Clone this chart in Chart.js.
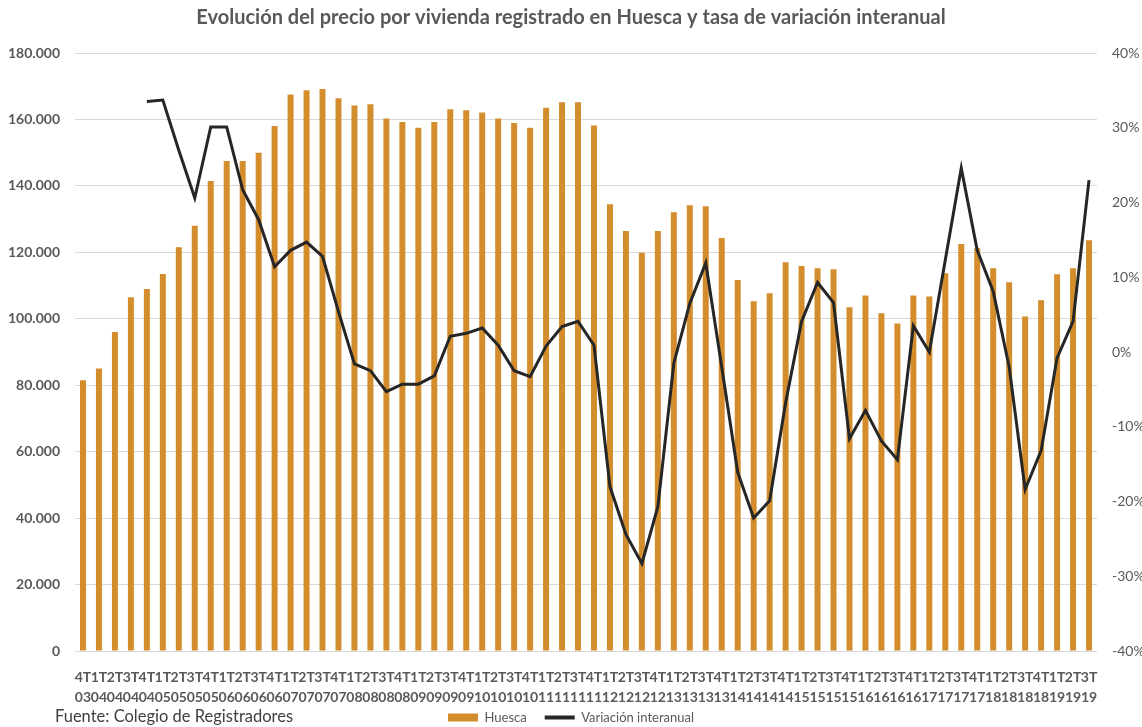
<!DOCTYPE html>
<html lang="es">
<head>
<meta charset="utf-8">
<title>Evolución del precio por vivienda registrado en Huesca</title>
<script src="https://cdn.jsdelivr.net/npm/chart.js@4.4.1/dist/chart.umd.min.js"></script>
<style>
  html, body { margin: 0; padding: 0; background: #fff; }
  #wrap { position: relative; width: 1142px; height: 727px; }
  #fuente {
    position: absolute; left: 55px; top: 706px;
    font-family: Lato, "Open Sans", sans-serif; font-size: 16.5px; color: #404040;
  }
</style>
</head>
<body>
<div id="wrap">
  <canvas id="chart" width="1142" height="727"></canvas>
  <div id="fuente">Fuente: Colegio de Registradores</div>
</div>
<script>
  // Trimestres (4T03 ... 3T19)
  const periodos = [
    "4T03",
    "1T04", "2T04", "3T04", "4T04",
    "1T05", "2T05", "3T05", "4T05",
    "1T06", "2T06", "3T06", "4T06",
    "1T07", "2T07", "3T07", "4T07",
    "1T08", "2T08", "3T08", "4T08",
    "1T09", "2T09", "3T09", "4T09",
    "1T10", "2T10", "3T10", "4T10",
    "1T11", "2T11", "3T11", "4T11",
    "1T12", "2T12", "3T12", "4T12",
    "1T13", "2T13", "3T13", "4T13",
    "1T14", "2T14", "3T14", "4T14",
    "1T15", "2T15", "3T15", "4T15",
    "1T16", "2T16", "3T16", "4T16",
    "1T17", "2T17", "3T17", "4T17",
    "1T18", "2T18", "3T18", "4T18",
    "1T19", "2T19", "3T19"
  ];

  // Precio por vivienda (euros)
  const precioHuesca = [
    81500,
    85000, 96000, 106500, 109000,
    113500, 121500, 128000, 141500,
    147500, 147500, 150000, 158000,
    167500, 168800, 169200, 166400,
    164200, 164600, 160300, 159200,
    157500, 159200, 163100, 162800,
    162100, 160300, 158900, 157500,
    163500, 165200, 165200, 158200,
    134500, 126400, 119900, 126400,
    132100, 134200, 133900, 124300,
    111700, 105300, 107700, 117000,
    115900, 115200, 114900, 103500,
    107000, 101700, 98600, 107000,
    106700, 113700, 122500, 121200,
    115200, 111000, 100700, 105600,
    113400, 115200, 123600
  ];

  // Variación interanual (%)
  const variacion = [
    null,
    null, null, null, 33.5,
    33.7, 27.0, 20.6, 30.1,
    30.1, 21.7, 17.7, 11.4,
    13.6, 14.7, 12.8, 5.4,
    -1.6, -2.5, -5.3, -4.3,
    -4.3, -3.2, 2.1, 2.5,
    3.2, 0.9, -2.5, -3.3,
    0.8, 3.4, 4.1, 0.9,
    -18.0, -24.4, -28.3, -20.7,
    -1.5, 6.5, 11.9, -2.0,
    -16.1, -22.2, -19.9, -6.8,
    4.1, 9.3, 6.6, -11.6,
    -7.8, -11.9, -14.4, 3.5,
    0.0, 12.3, 24.6, 13.6,
    8.1, -2.0, -18.4, -13.2,
    -0.8, 4.1, 23.0
  ];

  const TITULO = "Evolución del precio por vivienda registrado en Huesca y tasa de variación interanual";
  const FONT = 'Lato, "Open Sans", sans-serif';
  const GRIS = "#595959";
  const NARANJA = "#D38D2D";
  const NEGRO = "#262626";

  function miles(v) {
    return String(v).replace(/\B(?=(\d{3})+(?!\d))/g, ".");
  }

  // Las etiquetas de dos líneas del eje X sobresalen de su caja: sin recorte
  const sinRecorteX = {
    id: "sinRecorteX",
    afterLayout: function (chart) {
      chart.scales.x._computeLabelArea = function () { return undefined; };
    }
  };

  new Chart(document.getElementById("chart"), {
    data: {
      labels: periodos.map(function (p) { return [p.slice(0, 2), p.slice(2)]; }),
      datasets: [
        {
          type: "bar",
          label: "Huesca",
          data: precioHuesca,
          backgroundColor: NARANJA,
          yAxisID: "y",
          barPercentage: 0.75,
          categoryPercentage: 0.5,
          order: 2
        },
        {
          type: "line",
          label: "Variación interanual",
          data: variacion,
          borderColor: NEGRO,
          backgroundColor: NEGRO,
          borderWidth: 3,
          pointRadius: 0,
          tension: 0,
          yAxisID: "y1",
          order: 1
        }
      ]
    },
    plugins: [sinRecorteX],
    options: {
      responsive: false,
      animation: false,
      layout: { padding: { top: 0, left: 0, right: 0, bottom: -7 } },
      plugins: {
        tooltip: { enabled: false },
        title: {
          display: true,
          text: TITULO,
          color: GRIS,
          font: { family: FONT, size: 20, weight: "bold", lineHeight: 1.2 },
          padding: { top: 6, bottom: 23 }
        },
        legend: {
          position: "bottom",
          labels: {
            color: GRIS,
            font: { family: FONT, size: 13 },
            padding: 18,
            boxHeight: 8,
            usePointStyle: true,
            pointStyleWidth: 30,
            sort: function (a, b) { return a.datasetIndex - b.datasetIndex; },
            generateLabels: function (chart) {
              const items = Chart.defaults.plugins.legend.labels.generateLabels(chart);
              items.forEach(function (it) {
                if (it.datasetIndex === 0) {
                  it.pointStyle = "rect";
                  it.lineWidth = 0;
                  it.strokeStyle = NARANJA;
                } else {
                  it.pointStyle = "line";
                  it.lineWidth = 4;
                  it.strokeStyle = NEGRO;
                }
              });
              return items;
            }
          }
        }
      },
      scales: {
        x: {
          grid: { display: false, drawTicks: false },
          border: { display: false },
          ticks: {
            autoSkip: false,
            maxRotation: 0,
            minRotation: 0,
            padding: 17,
            color: GRIS,
            font: { family: FONT, size: 14, weight: "bold", lineHeight: 1.4 }
          },
          afterFit: function (s) { s.height = 42; }
        },
        y: {
          position: "left",
          min: 0,
          max: 180000,
          grid: { color: "#D9D9D9", lineWidth: 1, drawTicks: false },
          border: { display: false },
          ticks: {
            stepSize: 20000,
            padding: 15,
            color: GRIS,
            font: { family: FONT, size: 14, weight: "bold" },
            callback: function (v) { return miles(v); }
          },
          afterFit: function (s) { s.width = 75; }
        },
        y1: {
          position: "right",
          min: -40,
          max: 40,
          grid: { display: false, drawTicks: false },
          border: { display: false },
          ticks: {
            stepSize: 10,
            padding: 15,
            color: GRIS,
            font: { family: FONT, size: 14 },
            callback: function (v) { return Math.round(v) + "%"; }
          },
          afterFit: function (s) { s.width = 45; }
        }
      }
    }
  });
</script>
</body>
</html>
